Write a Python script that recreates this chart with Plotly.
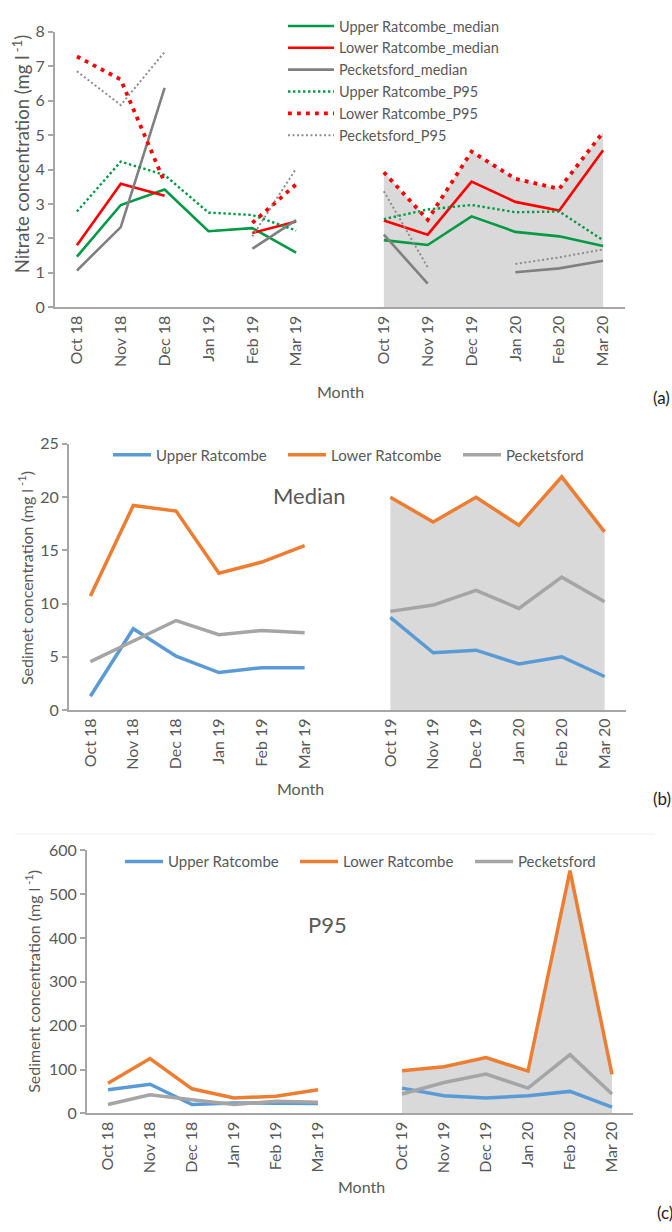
import plotly.graph_objects as go

# ---------------- data ----------------
months = ["Oct 18", "Nov 18", "Dec 18", "Jan 19", "Feb 19", "Mar 19",
          "Oct 19", "Nov 19", "Dec 19", "Jan 20", "Feb 20", "Mar 20"]

# (a) Nitrate concentration (mg l-1)
no3_upper_median = [1.47, 2.97, 3.42, 2.21, 2.30, 1.59, 1.95, 1.81, 2.64, 2.19, 2.06, 1.78]
no3_lower_median = [1.80, 3.59, 3.24, None, 2.16, 2.49, 2.52, 2.11, 3.65, 3.06, 2.81, 4.56]
no3_peck_median = [1.07, 2.33, 6.37, None, 1.70, 2.53, 2.11, 0.69, None, 1.02, 1.13, 1.35]
no3_upper_p95 = [2.78, 4.23, 3.84, 2.75, 2.68, 2.23, 2.56, 2.84, 2.97, 2.76, 2.78, 1.95]
no3_lower_p95 = [7.28, 6.61, 3.63, None, 2.45, 3.57, 3.92, 2.54, 4.52, 3.73, 3.44, 5.08]
no3_peck_p95 = [6.85, 5.87, 7.41, None, 2.06, 4.03, 3.37, 1.16, None, 1.26, 1.45, 1.68]

# (b) Sediment median (mg l-1)
sed_med_upper = [1.30, 7.63, 5.06, 3.52, 3.98, 3.98, 8.70, 5.37, 5.62, 4.32, 5.00, 3.15]
sed_med_lower = [10.71, 19.20, 18.68, 12.84, 13.89, 15.43, 19.97, 17.66, 19.97, 17.35, 21.89, 16.73]
sed_med_peck = [4.54, 6.45, 8.40, 7.07, 7.47, 7.26, 9.26, 9.85, 11.24, 9.54, 12.47, 10.16]

# (c) Sediment P95 (mg l-1)
sed_p95_upper = [53.9, 66.6, 20.2, 24.0, 23.0, 22.4, 57.7, 40.4, 35.2, 40.4, 50.2, 14.3]
sed_p95_lower = [68.9, 125.0, 56.1, 35.2, 39.0, 53.9, 97.3, 106.3, 127.2, 96.5, 553.5, 89.1]
sed_p95_peck = [20.2, 42.6, 31.4, 20.2, 27.8, 25.6, 44.2, 70.4, 89.7, 57.7, 134.0, 44.2]

# ---------------- layout helpers ----------------
W, H = 672, 1232
FONT = "Lato"
TXT = "#595959"
AXC = "#a6a6a6"
SHADE = "#d9d9d9"

# months placed on a category scale with one empty slot between the two winters
N1 = 6
xslots = list(range(len(months) + 1))
tickpos = [i if i < N1 else i + 1 for i in range(len(months))]


def with_gap(v):
    return list(v[:N1]) + [None] + list(v[N1:])


def px_x(v):
    return v / W


def px_y(v):
    return 1 - v / H


fig = go.Figure()


def shade(y, xa, ya):
    fig.add_trace(go.Scatter(
        x=tickpos[N1:], y=y[N1:], mode="lines", line=dict(width=0, color=SHADE),
        fill="tozeroy", fillcolor=SHADE, showlegend=False, hoverinfo="skip",
        xaxis=xa, yaxis=ya))


def line(y, name, color, width, dash, xa, ya, legend):
    fig.add_trace(go.Scatter(
        x=xslots, y=with_gap(y), name=name, mode="lines", connectgaps=False,
        line=dict(color=color, width=width, dash=dash),
        xaxis=xa, yaxis=ya, legend=legend))


GREEN, RED, GREY = "#009a44", "#ff0000", "#808080"
BLUE, ORANGE, LGREY = "#5b9bd5", "#ed7d31", "#a5a5a5"

# (a)
shade(no3_lower_p95, "x", "y")
line(no3_upper_median, "Upper Ratcombe_median", GREEN, 2.6, "solid", "x", "y", "legend")
line(no3_lower_median, "Lower Ratcombe_median", RED, 2.6, "solid", "x", "y", "legend")
line(no3_peck_median, "Pecketsford_median", GREY, 2.6, "solid", "x", "y", "legend")
line(no3_upper_p95, "Upper Ratcombe_P95", GREEN, 2.4, "2.4px,2.6px", "x", "y", "legend")
line(no3_lower_p95, "Lower Ratcombe_P95", RED, 3.8, "3.8px,5.2px", "x", "y", "legend")
line(no3_peck_p95, "Pecketsford_P95", "#8c8c8c", 2.0, "2px,2.5px", "x", "y", "legend")

# (b)
shade(sed_med_lower, "x2", "y2")
line(sed_med_upper, "Upper Ratcombe", BLUE, 3.5, "solid", "x2", "y2", "legend2")
line(sed_med_lower, "Lower Ratcombe", ORANGE, 3.5, "solid", "x2", "y2", "legend2")
line(sed_med_peck, "Pecketsford", LGREY, 3.5, "solid", "x2", "y2", "legend2")

# (c)
shade(sed_p95_lower, "x3", "y3")
line(sed_p95_upper, "Upper Ratcombe", BLUE, 3.5, "solid", "x3", "y3", "legend3")
line(sed_p95_lower, "Lower Ratcombe", ORANGE, 3.5, "solid", "x3", "y3", "legend3")
line(sed_p95_peck, "Pecketsford", LGREY, 3.5, "solid", "x3", "y3", "legend3")


def xaxis(domain, anchor):
    return dict(domain=domain, anchor=anchor, range=[-0.5, 12.5], tickmode="array",
                tickvals=tickpos, ticktext=months, tickangle=-90, showgrid=False,
                zeroline=False, showline=True, linecolor=AXC, linewidth=2,
                ticks="", tickfont=dict(family=FONT, size=16, color=TXT), fixedrange=True)


def yaxis(domain, anchor, rng, dtick):
    return dict(domain=domain, anchor=anchor, range=rng, dtick=dtick, showgrid=False,
                zeroline=False, showline=True, linecolor=AXC, linewidth=2,
                ticks="outside", ticklen=5, tickwidth=1.5, tickcolor=AXC,
                tickfont=dict(family=FONT, size=16, color=TXT), fixedrange=True)


ann_font = dict(family=FONT, size=16, color=TXT)
lab_font = dict(family=FONT, size=17, color="#222222")
annotations = [
    dict(text="Nitrate concentration (mg l<sup> -1</sup>)", x=px_x(21), y=px_y(270),
         xanchor="center", yanchor="bottom", textangle=-90,
         font=dict(family=FONT, size=18.5, color=TXT)),
    dict(text="Sedimet concentration (mg l<sup> -1</sup>)", x=px_x(25), y=px_y(577),
         xanchor="center", yanchor="middle", textangle=-90),
    dict(text="Sediment concentration (mg l<sup> -1</sup>)", x=px_x(33), y=px_y(987),
         xanchor="center", yanchor="middle", textangle=-90),
    dict(text="Month", x=px_x(340), y=px_y(387), xanchor="center", yanchor="middle"),
    dict(text="Month", x=px_x(300), y=px_y(791), xanchor="center", yanchor="middle"),
    dict(text="Month", x=px_x(361), y=px_y(1195), xanchor="center", yanchor="middle"),
    dict(text="(a)", x=px_x(651), y=px_y(394), xanchor="left", yanchor="middle", font=lab_font),
    dict(text="(b)", x=px_x(651), y=px_y(801), xanchor="left", yanchor="middle", font=lab_font),
    dict(text="(c)", x=px_x(655), y=px_y(1221), xanchor="left", yanchor="middle", font=lab_font),
    dict(text="Median", x=px_x(309), y=px_y(493), xanchor="center", yanchor="middle",
         font=dict(family=FONT, size=22, color=TXT)),
    dict(text="P95", x=px_x(327), y=px_y(929), xanchor="center", yanchor="middle",
         font=dict(family=FONT, size=22, color=TXT)),
]
for a in annotations:
    a.setdefault("font", ann_font)
    a.update(xref="paper", yref="paper", showarrow=False)

leg_font = dict(family=FONT, size=15, color=TXT)
fig.update_layout(
    width=W, height=H, margin=dict(l=0, r=0, t=0, b=0),
    paper_bgcolor="white", plot_bgcolor="rgba(0,0,0,0)",
    xaxis=xaxis([px_x(55), px_x(625)], "y"),
    yaxis=yaxis([px_y(302), px_y(22)], "x", [0, 8], 1),
    xaxis2=xaxis([px_x(69), px_x(626)], "y2"),
    yaxis2=yaxis([px_y(711), px_y(440.5)], "x2", [0, 25], 5),
    xaxis3=xaxis([px_x(87), px_x(633)], "y3"),
    yaxis3=yaxis([px_y(1120.7), px_y(853.3)], "x3", [0, 600], 100),
    legend=dict(x=px_x(283), y=px_y(0), xanchor="left", yanchor="top",
                orientation="v", bgcolor="rgba(0,0,0,0)",
                font=dict(family=FONT, size=14.5, color=TXT),
                tracegroupgap=0, itemwidth=46, itemclick=False, itemdoubleclick=False),
    legend2=dict(x=px_x(108), y=px_y(452), xanchor="left", yanchor="middle",
                 orientation="h", bgcolor="rgba(0,0,0,0)", font=leg_font,
                 itemwidth=38, entrywidth=122, entrywidthmode="pixels",
                 itemclick=False, itemdoubleclick=False),
    legend3=dict(x=px_x(120), y=px_y(865), xanchor="left", yanchor="middle",
                 orientation="h", bgcolor="rgba(0,0,0,0)", font=leg_font,
                 itemwidth=38, entrywidth=122, entrywidthmode="pixels",
                 itemclick=False, itemdoubleclick=False),
    annotations=annotations,
    shapes=[dict(type="line", xref="paper", yref="paper", x0=px_x(15), x1=px_x(655),
                 y0=px_y(837), y1=px_y(837), line=dict(color="#f0f0f0", width=1))],
    showlegend=True,
)

fig.write_html("out.html")
